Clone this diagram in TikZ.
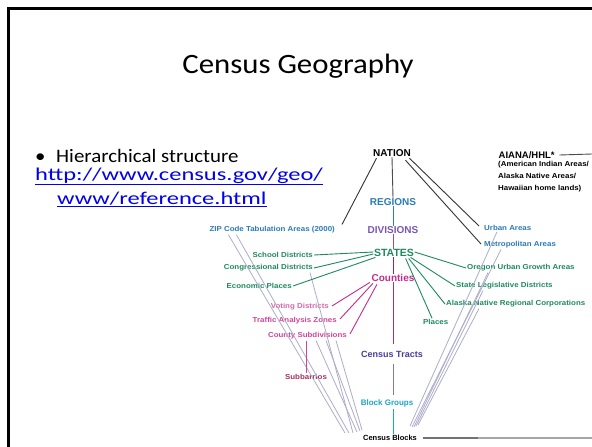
\documentclass[tikz,border=0pt]{standalone}
\usepackage{fontspec}
\setmainfont{Carlito}[FakeStretch=1.1]
\newfontfamily\linkfont{Carlito}[FakeStretch=1.36]
\newfontfamily\labfont{Liberation Sans}
\newfontfamily\slabfont{Liberation Sans}[FakeStretch=1.1]
\usetikzlibrary{calc}
\definecolor{cblue}{HTML}{2A7BB8}
\definecolor{cpurple}{HTML}{7A55B5}
\definecolor{cgreen}{HTML}{1E8A5E}
\definecolor{cpink}{HTML}{C42C8C}
\definecolor{clpink}{HTML}{D868A8}
\definecolor{cmpink}{HTML}{D2449A}
\definecolor{cdred}{HTML}{A83060}
\definecolor{cindigo}{HTML}{4A3D9A}
\definecolor{ccyan}{HTML}{1DA5C5}
\definecolor{cgrey}{HTML}{ADADCA}
\definecolor{clink}{HTML}{0000EE}
\tikzset{
  big/.style={inner sep=0.5pt, font=\labfont\bfseries\fontsize{10}{11}\selectfont},
  small/.style={inner sep=1pt, font=\slabfont\bfseries\fontsize{7.2}{8}\selectfont},
  conn/.style={line width=0.9pt},
  faint/.style={cgrey, line width=0.8pt},
}
\begin{document}
\begin{tikzpicture}[x=1pt,y=-1pt]
\useasboundingbox (0,0) rectangle (592,447);
\fill[white] (0,0) rectangle (592,447);
% slide frame
\draw[line width=3pt, black] (8,447) -- (8,8) -- (592,8);
% title and text
\node (title) at (298,66) {\fontsize{28}{30}\selectfont Census Geography};
\node[anchor=base west, inner sep=0pt] (bullet) at (35,162) {\fontsize{19}{20}\selectfont \textbullet};
\node[anchor=base west, inner sep=0pt, text depth=2.5pt] (htext) at (56,162) {\fontsize{19}{20}\selectfont Hierarchical structure};
\node[anchor=base west, inner sep=0pt, clink, text height=11.5pt] (link1) at (35,180) {\linkfont\fontsize{18}{20}\selectfont\underline{http://www.census.gov/geo/}};
\node[anchor=base west, inner sep=0pt, clink] (link2) at (57,204) {\linkfont\fontsize{18}{20}\selectfont\underline{www/reference.html}};
% main hierarchy
\node[big] (nation) at (392,153) {NATION};
\node[big, cblue] (regions) at (393,202) {REGIONS};
\node[big, cpurple] (divisions) at (393,230) {DIVISIONS};
\node[big, cgreen, font=\labfont\bfseries\fontsize{10.5}{11}\selectfont] (states) at (394,253) {STATES};
\node[big, cpink] (counties) at (393,278) {Counties};
\node[big, cindigo, font=\labfont\bfseries\fontsize{9}{10}\selectfont] (tracts) at (392,354) {Census Tracts};
\node[big, ccyan, font=\labfont\bfseries\fontsize{8}{9}\selectfont] (bgroups) at (387,403) {Block Groups};
\node[big, font=\labfont\bfseries\fontsize{7.5}{8}\selectfont] (blocks) at (390,438) {Census Blocks};
% AIANA
\node[big, anchor=west, font=\labfont\bfseries\fontsize{9.5}{10}\selectfont] (aiana) at (498,155) {AIANA/HHL*};
\node[small, anchor=north west, align=left, inner sep=0pt, font=\slabfont\bfseries\fontsize{7.2}{12}\selectfont] (aianasub) at (498,161) {(American Indian Areas/\\Alaska Native Areas/\\Hawaiian home lands)};
\coordinate (aianaend) at (592,154);
% left items
\node[small, cblue, anchor=east] (zip) at (336,230) {ZIP Code Tabulation Areas (2000)};
\node[small, cgreen, anchor=east] (school) at (314,255) {School Districts};
\node[small, cgreen, anchor=east] (cong) at (314,268) {Congressional Districts};
\node[small, cgreen, anchor=east] (econ) at (293,286) {Economic Places};
\node[small, clpink, anchor=east] (voting) at (330,307) {Voting Districts};
\node[small, cmpink, anchor=east] (traffic) at (338,321) {Traffic Analysis Zones};
\node[small, cmpink, anchor=east] (countysub) at (348,336) {County Subdivisions};
\node[small, cdred] (subb) at (306,377) {Subbarrios};
% right items
\node[small, cblue, anchor=west] (urban) at (483,228) {Urban Areas};
\node[small, cblue, anchor=west] (metro) at (483,245) {Metropolitan Areas};
\node[small, cgreen, anchor=west] (oregon) at (466,268) {Oregon Urban Growth Areas};
\node[small, cgreen, anchor=west] (stleg) at (455,286) {State Legislative Districts};
\node[small, cgreen, anchor=west] (alaska) at (445,304) {Alaska Native Regional Corporations};
\node[small, cgreen, anchor=west] (places) at (422,322) {Places};
% faint converging lines
\coordinate (cl1) at (349,433);
\coordinate (cl2) at (353,433);
\coordinate (cl3) at (357,432);
\coordinate (cl4) at (360,431);
\coordinate (cl5) at (362,430);
\coordinate (cl6) at (345,433);
\coordinate (cr1) at (410,426);
\coordinate (cr2) at (412,427);
\coordinate (cr3) at (414,427);
\coordinate (cr4) at (416,426);
\coordinate (cr5) at (418,425);
\draw[faint] ($(zip.south west)+(20,0)$) -- (cl6);
\draw[faint] ($(zip.south west)+(28,0)$) -- (cl1);
\draw[faint] ($(cong.south east)+(-4,0)$) -- (cl2);
\draw[faint] ($(countysub.south east)+(-32,0)$) -- (cl3);
\draw[faint] ($(countysub.south east)+(-22,0)$) -- (cl4);
\draw[faint] ($(countysub.south east)+(-12,0)$) -- (cl5);
\draw[faint] ($(urban.south west)+(14,0)$) -- (cr1);
\draw[faint] ($(metro.south west)+(18,0)$) -- (cr2);
\draw[faint] ($(oregon.south west)+(22,0)$) -- (cr3);
\draw[faint] ($(stleg.south west)+(28,0)$) -- (cr4);
\draw[faint] ($(alaska.south west)+(34,0)$) -- (cr5);
% hierarchy verticals
\draw[conn, black!70] (nation.south) -- (regions.north);
\draw[conn, cblue] (regions.south) -- (divisions.north);
\draw[conn, cpurple] (divisions.south) -- (states.north -| divisions.south);
\draw[conn, cpink!80!black] (states.south -| counties.north) -- (counties.north);
\draw[conn, cpink!70!cindigo] (counties.south) -- ($(tracts.north -| counties.south)+(0,-6)$);
\draw[conn, cindigo!70] ($(tracts.south -| counties.south)+(0,6)$) -- ($(bgroups.north -| counties.south)+(0,-4)$);
\draw[conn, ccyan] ($(bgroups.south -| counties.south)+(0,2)$) -- ($(blocks.north -| counties.south)+(0,-1)$);
% nation links
\draw[conn, black!80] ($(nation.south west)+(4,1)$) -- ($(zip.north east)+(6,-1)$);
\draw[conn, black!80] ($(nation.south east)+(-2,1)$) -- ($(urban.west)+(-4,-2)$);
\draw[conn, black!80] ($(nation.south east)+(-6,3)$) -- ($(metro.west)+(-2,-1)$);
% state links
\draw[conn, cgreen] (school.east) -- ($(states.west)+(0,-1)$);
\draw[conn, cgreen] (cong.east) -- ($(states.west)+(0,1)$);
\draw[conn, cgreen] (econ.east) -- ($(states.south west)+(2,0)$);
\draw[conn, cgreen] ($(states.east)+(0,-1)$) -- (oregon.west);
\draw[conn, cgreen] ($(states.south east)+(-4,0)$) -- (stleg.west);
\draw[conn, cgreen] ($(states.south east)+(-6,1)$) -- (alaska.west);
\draw[conn, cgreen] ($(states.south east)+(-9,1)$) -- ($(places.north west)+(10,0)$);
% county links
\draw[conn, cpink] ($(counties.south west)+(-1,0)$) -- ($(voting.east)+(2,-1)$);
\draw[conn, cpink] ($(counties.south west)+(2,1)$) -- ($(traffic.east)+(2,-2)$);
\draw[conn, cpink] ($(counties.south west)+(6,2)$) -- ($(countysub.east)+(2,-2)$);
\draw[conn, cmpink] (subb.north |- countysub.south) -- (subb.north);
% right edges
\draw[conn, black!70] (aiana.east) ++(4,0) -- (aianaend);
\coordinate (blend) at (592,438);
\draw[line width=1.5pt, black!55] ($(blocks.east)+(5,0)$) -- ($(blocks.east)+(60,0)$);
\draw[line width=1.5pt, black!35] ($(blocks.east)+(60,0)$) -- (blend);
\end{tikzpicture}
\end{document}
